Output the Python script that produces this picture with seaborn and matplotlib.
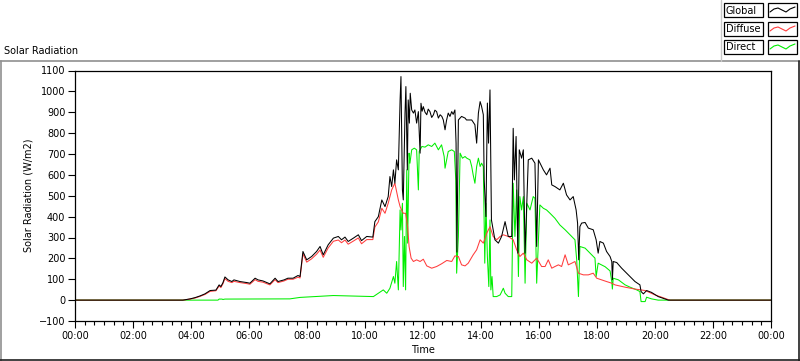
import numpy as np
import pandas as pd
import matplotlib
matplotlib.use("Agg")
import matplotlib.pyplot as plt
import seaborn as sns
from matplotlib.lines import Line2D
from matplotlib.patches import Rectangle

# ---- data (time in hours of day, W/m2) ----
global_t = [0.00, 3.72, 3.97, 4.14, 4.31, 4.48, 4.66, 4.86, 4.97, 5.03, 5.10, 5.17, 5.28, 5.41, 5.48,
            5.69, 5.93, 6.03, 6.21, 6.31, 6.48, 6.72, 6.90, 7.00, 7.21, 7.34, 7.52, 7.69, 7.76, 7.86,
            7.99, 8.16, 8.33, 8.45, 8.56, 8.73, 8.91, 9.08, 9.19, 9.31, 9.42, 9.60, 9.77, 9.88, 10.06,
            10.27, 10.34, 10.46, 10.58, 10.69, 10.80, 10.86, 10.92, 10.98, 11.03, 11.09, 11.15, 11.21,
            11.24, 11.29, 11.32, 11.38, 11.41, 11.46, 11.49, 11.53, 11.56, 11.61, 11.67, 11.72, 11.78,
            11.84, 11.90, 11.93, 11.97, 12.01, 12.07, 12.13, 12.18, 12.24, 12.30, 12.36, 12.41, 12.47,
            12.53, 12.59, 12.65, 12.70, 12.76, 12.81, 12.87, 12.93, 12.99, 13.04,
            13.10, 13.14, 13.17, 13.22, 13.33, 13.45, 13.50, 13.68, 13.79, 13.85, 13.91, 13.97, 14.02,
            14.08, 14.11, 14.17, 14.22, 14.26, 14.31, 14.36, 14.40, 14.48, 14.60, 14.71, 14.83, 14.94,
            15.06, 15.11, 15.15, 15.21, 15.27, 15.32, 15.40, 15.46, 15.52, 15.63, 15.75, 15.86, 15.92,
            15.98, 16.15, 16.26, 16.38, 16.44, 16.55, 16.72, 16.84, 16.95, 17.07, 17.18, 17.28, 17.33,
            17.37, 17.41, 17.47, 17.59, 17.70, 17.87, 17.97, 18.04, 18.10, 18.22, 18.33, 18.45, 18.51,
            18.53, 18.56, 18.68, 18.85, 19.08, 19.31, 19.48, 19.52, 19.60, 19.71, 19.88, 20.11, 20.34,
            20.46, 24.00]
global_v = [0, 0, 6, 12, 20, 30, 46, 48, 73, 65, 83, 111, 97, 89, 97,
            89, 84, 81, 105, 97, 92, 78, 105, 89, 97, 105, 105, 118, 113, 233,
            193, 209, 233, 257, 217, 265, 297, 305, 289, 302, 281, 297, 313, 285, 305,
            302, 376, 400, 480, 448, 496, 592, 544, 624, 560, 672, 624, 959,
            1071, 528, 480, 896, 1023, 624, 959, 848, 991, 911, 896, 911, 848,
            903, 704, 943, 905, 927, 900, 888, 915, 903, 875, 888, 910, 903,
            872, 888, 880, 863, 816, 860, 896, 880, 903, 890,
            911, 752, 230, 863, 880, 872, 863, 863, 840, 752, 896, 951, 928,
            888, 576, 400, 944, 752, 1007, 384, 352, 289, 273, 305, 376, 305,
            305, 823, 576, 784, 225, 720, 680, 720, 225, 672, 680, 656, 257,
            672, 624, 600, 632, 552, 544, 528, 560, 504, 480, 496, 432, 369,
            193, 352, 369, 372, 345, 337, 289, 225, 281, 273, 233, 209, 185,
            97, 185, 180, 153, 121, 89, 73, 41, 30, 46, 37, 17, 6,
            0, 0]

diffuse_t = [0.00, 3.72, 3.97, 4.14, 4.31, 4.48, 4.66, 4.86, 4.97, 5.03, 5.10, 5.17, 5.28, 5.41, 5.48,
             5.69, 5.93, 6.03, 6.21, 6.31, 6.48, 6.72, 6.90, 7.00, 7.21, 7.34, 7.52, 7.69, 7.76, 7.86,
             7.99, 8.16, 8.33, 8.45, 8.56, 8.73, 8.91, 9.08, 9.19, 9.31, 9.42, 9.60, 9.77, 9.88, 10.06,
             10.27, 10.34, 10.46, 10.58, 10.69, 10.80, 10.92, 11.03, 11.09, 11.15, 11.21, 11.26, 11.32,
             11.40, 11.47, 11.52, 11.59, 11.67, 11.78, 11.90, 12.01, 12.13, 12.30, 12.47, 12.64, 12.82,
             12.99, 13.10, 13.22, 13.33, 13.45, 13.56, 13.73, 13.85, 13.97, 14.08, 14.20, 14.31, 14.42,
             14.54, 14.66, 14.77, 14.94, 15.11, 15.23, 15.34, 15.46, 15.58, 15.75, 15.92, 16.09, 16.21,
             16.32, 16.44, 16.55, 16.67, 16.78, 16.90, 17.01, 17.13, 17.24, 17.36, 17.53, 17.70, 17.87,
             17.99, 18.16, 18.33, 18.51, 18.62, 18.97, 19.31, 19.66, 20.00, 20.23, 20.45, 20.52, 24.00]
diffuse_v = [0, 0, 5, 10, 18, 27, 42, 45, 68, 60, 78, 103, 90, 84, 90,
             84, 79, 76, 98, 90, 86, 73, 98, 84, 92, 100, 100, 110, 106, 222,
             182, 198, 220, 240, 205, 250, 282, 288, 275, 288, 268, 283, 298, 270, 290,
             290, 350, 375, 440, 416, 464, 528, 560, 520, 480, 448, 432, 416,
             416, 352, 257, 201, 185, 193, 185, 196, 164, 153, 161, 174, 190,
             185, 212, 209, 169, 164, 177, 217, 241, 289, 273, 321, 352, 305,
             289, 305, 313, 305, 289, 241, 209, 225, 193, 177, 201, 161, 161,
             193, 153, 161, 169, 161, 217, 169, 177, 185, 129, 121, 121, 129,
             105, 97, 89, 81, 73, 62, 53, 46, 25, 14, 3, 0, 0]

direct_t = [0.00, 4.93, 4.97, 5.07, 5.10, 5.17, 7.41, 7.76, 8.91, 10.29, 10.46, 10.63, 10.69, 10.75,
            10.86, 10.98, 11.03, 11.09, 11.15, 11.21, 11.24, 11.29, 11.32, 11.36, 11.40, 11.44, 11.47,
            11.52, 11.55, 11.61, 11.70, 11.78, 11.84, 11.87, 11.96, 12.07, 12.18, 12.30, 12.41, 12.53,
            12.64, 12.73, 12.76, 12.87, 12.99, 13.08, 13.13, 13.16, 13.22, 13.28, 13.36, 13.45, 13.51,
            13.62, 13.68, 13.73, 13.79, 13.85, 13.91, 13.97, 14.02, 14.08, 14.13, 14.17, 14.22, 14.27,
            14.31, 14.34, 14.38, 14.42, 14.54, 14.66, 14.77, 14.83, 14.94, 15.06, 15.11, 15.17, 15.23,
            15.29, 15.34, 15.40, 15.46, 15.52, 15.58, 15.69, 15.80, 15.86, 15.92, 16.03, 16.15, 16.26,
            16.38, 16.55, 16.72, 16.90, 17.07, 17.24, 17.30, 17.36, 17.41, 17.59, 17.76, 17.93, 17.97,
            18.04, 18.28, 18.45, 18.51, 18.53, 18.56, 18.74, 18.97, 19.14, 19.37, 19.48, 19.52, 19.66,
            19.71, 19.88, 20.11, 24.00]
direct_v = [0, 0, 5, 5, 3, 5, 6, 13, 22, 17, 33, 49, 41, 33,
            57, 113, 81, 185, 49, 432, 336, 464, 65, 305, 49, 624, 273,
            704, 656, 720, 728, 720, 528, 712, 736, 733, 744, 736, 752, 720,
            744, 688, 632, 712, 720, 712, 576, 129, 305, 704, 680, 688, 680,
            672, 640, 600, 560, 640, 680, 640, 656, 640, 177, 464, 209, 65,
            384, 49, 113, 17, 17, 25, 57, 33, 17, 17, 560, 305, 528,
            113, 496, 432, 496, 81, 464, 432, 496, 488, 81, 456, 440, 432,
            416, 392, 360, 337, 313, 289, 193, 17, 257, 249, 225, 201, 113,
            177, 160, 140, 89, 53, 105, 97, 73, 62, 49, 41, -7, -7,
            14, 6, 0, 0]

series_names = ["Global", "Diffuse", "Direct"]
series_colors = ["#000000", "#ff3c3c", "#00ee00"]
tick_labels = ["00:00", "02:00", "04:00", "06:00", "08:00", "10:00", "12:00",
               "14:00", "16:00", "18:00", "20:00", "22:00", "00:00"]

df = pd.concat([
    pd.DataFrame({"t": global_t, "v": global_v, "s": "Global"}),
    pd.DataFrame({"t": diffuse_t, "v": diffuse_v, "s": "Diffuse"}),
    pd.DataFrame({"t": direct_t, "v": direct_v, "s": "Direct"}),
], ignore_index=True)

sns.set_theme(style="white")
plt.rcParams["font.family"] = ["DejaVu Sans"]
plt.rcParams["text.color"] = "black"
plt.rcParams["axes.labelcolor"] = "black"
plt.rcParams["xtick.color"] = "black"
plt.rcParams["ytick.color"] = "black"

W, H = 800, 361
fig = plt.figure(figsize=(W / 100, H / 100), dpi=100)
fig.patch.set_facecolor("white")

def fx(x):
    return x / W

def fy(y):
    return 1 - y / H

ax = fig.add_axes([fx(75), fy(321), fx(771) - fx(75), fy(70.5) - fy(321)])

order = ["Direct", "Diffuse", "Global"]
for name in order:
    sub = df[df["s"] == name]
    sns.lineplot(data=sub, x="t", y="v", color=series_colors[series_names.index(name)],
                 estimator=None, sort=False, lw=0.75, ax=ax, legend=False)

ax.set_xlim(0, 24)
ax.set_ylim(-100, 1100)
ax.set_xticks(np.arange(0, 25, 2))
ax.set_xticklabels(tick_labels)
ax.set_xticks(np.arange(0, 24.01, 1 / 3), minor=True)
ax.set_yticks(np.arange(-100, 1101, 100))
for sp in ax.spines.values():
    sp.set_color("black")
    sp.set_linewidth(0.9)
ax.tick_params(axis="both", which="major", direction="out", length=5, width=0.8,
               color="black", labelcolor="black", labelsize=7, pad=2, bottom=True, left=True)
ax.tick_params(axis="x", which="minor", direction="out", length=3, width=0.8,
               color="black", bottom=True)
ax.set_xlabel("Time", fontsize=7, labelpad=3, color="black")
ax.set_ylabel("Solar Radiation (W/m2)", fontsize=7, labelpad=4, color="black")
ax.grid(False)

fig.text(fx(4), fy(51), "Solar Radiation", fontsize=7, ha="left", va="center", color="black")

# panel frame
fig.add_artist(Line2D([fx(0), fx(800)], [fy(61), fy(61)], color="#909090", lw=1.2))
fig.add_artist(Line2D([fx(1), fx(1)], [fy(61), fy(361)], color="#909090", lw=1.2))
fig.add_artist(Line2D([fx(799), fx(799)], [fy(61), fy(361)], color="#202020", lw=1.2))
fig.add_artist(Line2D([fx(0), fx(800)], [fy(360), fy(360)], color="#202020", lw=1.2))
fig.add_artist(Line2D([fx(721), fx(721)], [fy(0), fy(61)], color="#c8c8c8", lw=1.0))

# legend
rows_y = [3, 22, 40]
for name, col, y0 in zip(series_names, series_colors, rows_y):
    fig.add_artist(Rectangle((fx(724), fy(y0 + 14)), fx(763) - fx(724), fy(y0) - fy(y0 + 14),
                             fill=False, edgecolor="black", lw=0.9))
    fig.text(fx(726), fy(y0 + 7.5), name, fontsize=7, ha="left", va="center", color="black")
    fig.add_artist(Rectangle((fx(768), fy(y0 + 14)), fx(797) - fx(768), fy(y0) - fy(y0 + 14),
                             fill=False, edgecolor="black", lw=0.9))
    zx = [770, 774, 778, 782, 786, 790, 795]
    zy = [y0 + 9, y0 + 6, y0 + 5, y0 + 7, y0 + 9, y0 + 6, y0 + 4]
    fig.add_artist(Line2D([fx(a) for a in zx], [fy(b) for b in zy], color=col, lw=0.8))

fig.savefig("out.png", dpi=100)
